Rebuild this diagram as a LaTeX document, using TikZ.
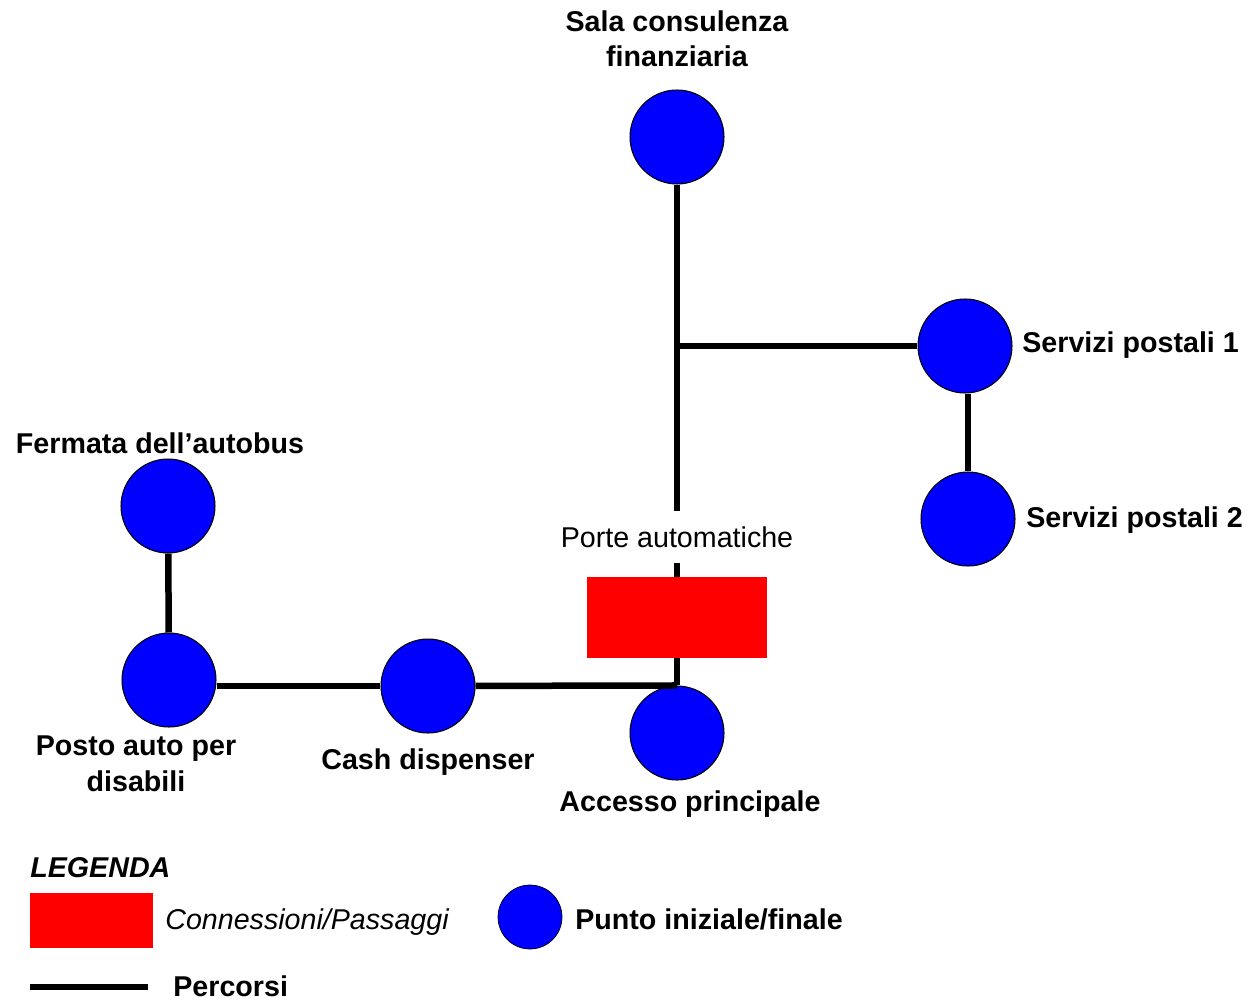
\documentclass[tikz,border=0pt]{standalone}
\usepackage{fontspec}
\setmainfont{Liberation Sans}
\definecolor{pblue}{RGB}{0,0,255}
\definecolor{pred}{RGB}{255,0,0}
\begin{document}
\begin{tikzpicture}[x=0.02cm,y=-0.02cm,
  pt/.style={circle,draw=black,line width=0.6pt,fill=pblue,minimum size=1.88cm,inner sep=0pt},
  legpt/.style={circle,draw=black,line width=0.4pt,fill=pblue,minimum size=1.28cm,inner sep=0pt},
  route/.style={line width=0.13cm},
  txt/.style={font=\fontsize{16.3}{20}\selectfont,inner sep=0pt},
  lbl/.style={font=\fontsize{16.3}{20}\selectfont\bfseries,inner sep=0pt,align=center},
  door/.style={fill=pred,inner sep=0pt},
]
\useasboundingbox (0,0) rectangle (1250,1000);
% points
\node[pt] (sala) at (677,137) {};
\node[pt] (sp1) at (965,346) {};
\node[pt] (sp2) at (968,519) {};
\node[pt] (ferm) at (168,506) {};
\node[pt] (posto) at (169,680) {};
\node[pt] (cash) at (428,686) {};
\node[pt] (acc) at (677,733) {};
% door
\node[door,minimum width=3.6cm,minimum height=1.62cm] (porte) at (677,617.5) {};
\node[txt,inner ysep=0.3cm,anchor=base] (portelbl) at (677,547) {Porte automatiche};
\coordinate (j1) at (677,346);
% routes
\draw[route] (sala) -- (portelbl);
\draw[route] (j1) -- (sp1);
\draw[route] (portelbl) -- (porte);
\draw[route] (porte) -- (acc.north);
\draw[route] (cash) -- (acc.north);
\draw[route] (cash.west) -- (cash.west -| posto.east);
\draw[route] (ferm) -- (posto);
\draw[route] (sp2.north) -- (sp2.north |- sp1.south);
% labels
\node[lbl,anchor=base] (tsala) at (677,67) {Sala consulenza\\finanziaria};
\node[lbl,anchor=base west] (tsp1) at (1022,352) {Servizi postali 1};
\node[lbl,anchor=base west] (tsp2) at (1026,527) {Servizi postali 2};
\node[lbl,anchor=base] (tferm) at (160,453) {Fermata dell’autobus};
\node[lbl,anchor=base] (tposto) at (136,791) {Posto auto per\\disabili};
\node[lbl,anchor=base] (tcash) at (428,769) {Cash dispenser};
\node[lbl,anchor=base] (tacc) at (690,811) {Accesso principale};
% legend
\node[lbl,font=\fontsize{16.3}{20}\selectfont\bfseries\itshape,anchor=base west] (tleg) at (30,877) {LEGENDA};
\node[door,minimum width=2.46cm,minimum height=1.1cm,anchor=north west] (legdoor) at (30,893) {};
\node[txt,font=\fontsize{16.3}{20}\selectfont\itshape,anchor=base west] (tlegdoor) at (165,929) {Connessioni/Passaggi};
\node[legpt] (legpt) at (530,917) {};
\node[lbl,anchor=base west] (tlegpt) at (575,929) {Punto iniziale/finale};
\coordinate (la) at (30,987);
\coordinate (lb) at (148,987);
\draw[route] (la) -- (lb);
\node[lbl,anchor=base west] (tlegroute) at (173,996) {Percorsi};
\end{tikzpicture}
\end{document}
